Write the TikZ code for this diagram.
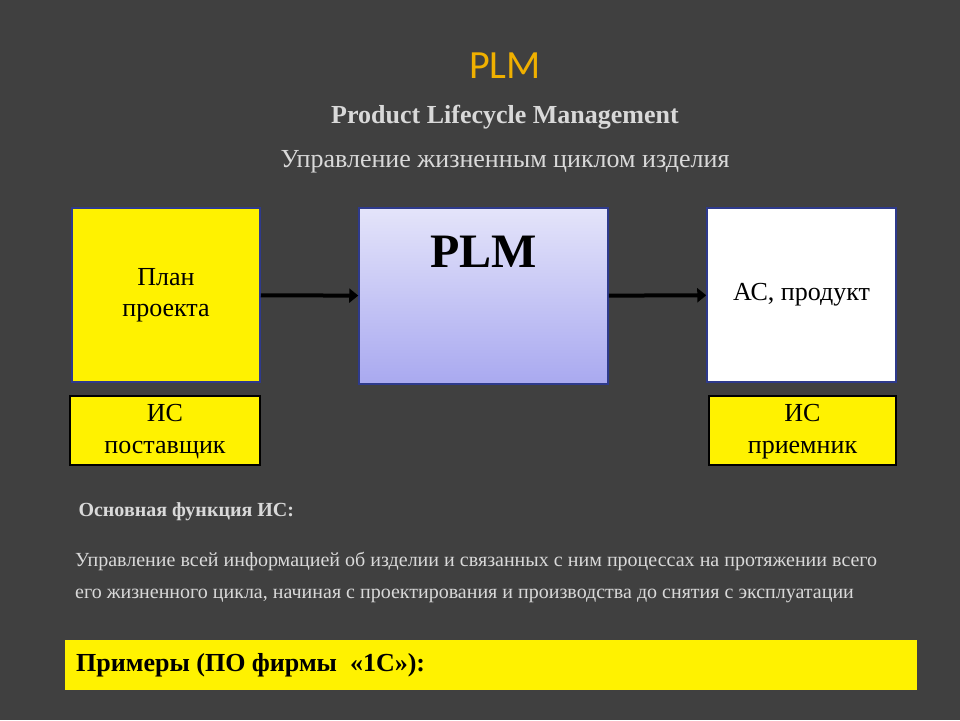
\documentclass[tikz,border=0pt]{standalone}
\usepackage{fontspec}
\setmainfont{Liberation Serif}
\newfontfamily\titlefont{Carlito}
\usetikzlibrary{arrows.meta,positioning}
\definecolor{bgGray}{HTML}{404040}
\definecolor{titleGold}{HTML}{F0B000}
\definecolor{lightText}{HTML}{D9D9D9}
\definecolor{boxBlue}{HTML}{2E3A8C}
\definecolor{lavTop}{HTML}{E4E4FA}
\definecolor{lavBot}{HTML}{A9A9F0}
\begin{document}
\begin{tikzpicture}[x=1pt,y=-1pt,
	BigBox/.style	= {draw=boxBlue, line width=1.5pt, minimum width=188pt, minimum height=174pt, inner sep=0pt, align=center, font=\fontsize{26}{31}\selectfont},
	SmallBox/.style	= {draw=black, line width=2.5pt, fill=yellow, minimum width=190pt, minimum height=69pt, inner sep=0pt},
	Flow/.style		= {line width=4pt, -{Triangle[length=9pt,width=14pt]}}]
	\useasboundingbox (0,0) rectangle (960,720);
	\fill[bgGray] (0,0) rectangle (960,720);

	\node (title) at (505,66) [text=titleGold, font=\titlefont\fontsize{40}{44}\selectfont] {PLM};
	\node (sub) at (505,117) [text=lightText, font=\bfseries\fontsize{26}{30}\selectfont] {Product Lifecycle Management};
	\node (rus) at (505,162) [text=lightText, font=\fontsize{26}{30}\selectfont] {Управление жизненным циклом изделия};

	\node (plan) at (166,295) [BigBox, fill=yellow] {План\\проекта};
	\node (plm) at (483.5,296) [BigBox, minimum width=249pt, minimum height=176pt, top color=lavTop, bottom color=lavBot, font=\bfseries\fontsize{48}{52}\selectfont] {\raisebox{4ex}{PLM}};
	\node (prod) at (801.5,295) [BigBox, fill=white, minimum width=189pt] {АС, продукт};

	\draw [Flow] (plan) -- (plm);
	\draw [Flow] (plm) -- (prod);

	% small boxes with clipped text
	\node (supp) at (165,430.5) [SmallBox] {};
	\node (recv) at (802.5,430.5) [SmallBox, minimum width=187pt] {};
	\begin{scope}
		\clip (supp.south west) rectangle (supp.north east);
		\node at (165,432) [align=center, font=\fontsize{26}{32}\selectfont] {ИС\\поставщик};
	\end{scope}
	\begin{scope}
		\clip (recv.south west) rectangle (recv.north east);
		\node at (802.5,432) [align=center, font=\fontsize{26}{32}\selectfont] {ИС\\приемник};
	\end{scope}

	\node (fhead) at (75,512) [anchor=west, text=lightText, font=\bfseries\fontsize{20}{24}\selectfont] {Основная функция ИС:};
	\node (ftext) at (75,577) [anchor=west, inner sep=0pt, text width=802pt, align=justify, text=lightText, font=\fontsize{20}{32}\selectfont]
		{Управление всей информацией об изделии и связанных с ним процессах на протяжении всего его жизненного цикла, начиная с проектирования и производства до снятия с эксплуатации};

	\node (examples) at (65,665) [anchor=west, fill=yellow, minimum width=852pt, minimum height=50pt, inner sep=0pt] {};
	\node (extext) at (76,665) [anchor=west, inner sep=0pt, font=\bfseries\fontsize{26}{30}\selectfont] {Примеры (ПО фирмы \ «1С»):};
\end{tikzpicture}
\end{document}
